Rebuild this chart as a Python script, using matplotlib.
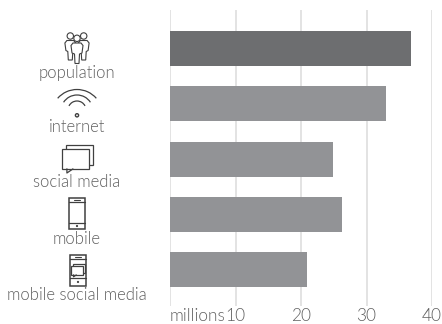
import numpy as np
import matplotlib
matplotlib.use("Agg")
import matplotlib.pyplot as plt
from matplotlib.patches import Circle, Rectangle, Arc

categories = ["population", "internet", "social media", "mobile", "mobile social media"]
values = [36.8, 33.0, 24.9, 26.3, 20.9]
bar_colors = ["#6d6e70", "#929396", "#929396", "#929396", "#929396"]
tick_values = [10, 20, 30, 40]

TEXT = "#606060"
INK = "#404040"
plt.rcParams["font.family"] = ["Lato", "DejaVu Sans"]

W, H = 442, 324
fig = plt.figure(figsize=(W / 100, H / 100), dpi=100)

# Bar panel placed by pixel bounds: 0..40 spans x 170..432, rows span y 10..306
ax = fig.add_axes([170 / W, 1 - 306 / H, 262 / W, 296 / H])
ax.set_xlim(0, 40)
ax.set_ylim(4.66, -0.697)
ax.barh(range(len(values)), values, height=0.633, color=bar_colors, zorder=3)
for v in [0] + tick_values:
    ax.axvline(v, color="#e0e0e0", lw=1.3, zorder=1)
for s in ax.spines.values():
    s.set_visible(False)
ax.set_yticks([])
ax.set_xticks([])
ax.patch.set_alpha(0)
for v in tick_values:
    ax.annotate(str(v), (v, 0), xycoords=("data", "axes fraction"), xytext=(0, -10.9),
                textcoords="offset points", ha="center", va="baseline",
                fontsize=12.5, color=TEXT, fontweight=300, annotation_clip=False)
ax.annotate("millions", (0, 0), xycoords=("data", "axes fraction"), xytext=(0, -10.9),
            textcoords="offset points", ha="left", va="baseline",
            fontsize=12.4, color=TEXT, fontweight=300, annotation_clip=False)

# Overlay in pixel units for the row icons and captions
ov = fig.add_axes([0, 0, 1, 1])
ov.set_xlim(0, W)
ov.set_ylim(H, 0)
ov.axis("off")
ov.patch.set_alpha(0)

label_y = [78, 132.5, 187, 243.5, 299.5]
for name, y in zip(categories, label_y):
    ov.text(77, y, name, ha="center", va="baseline", fontsize=12, color=TEXT, fontweight=300)


def line(xs, ys, lw=1.0):
    ov.plot(xs, ys, color=INK, lw=lw, solid_capstyle="round", solid_joinstyle="round", zorder=5)


def box(x0, y0, x1, y1, lw=1.0, fc="white", z=3):
    ov.add_patch(Rectangle((x0, y0), x1 - x0, y1 - y0, fc=fc, ec=INK, lw=lw, zorder=z))


def person(cx, head_y, top, bottom, half, z=2):
    ov.add_patch(Circle((cx, head_y), 3.2, fc="white", ec=INK, lw=0.8, zorder=z))
    xs = [cx - half + 2, cx - half, cx - half + 1, cx - 2.5, cx - 2, cx + 2, cx + 2.5, cx + half - 1, cx + half, cx + half - 2]
    ys = [top, top + 2.5, top + 10, top + 11, bottom, bottom, top + 11, top + 10, top + 2.5, top]
    ov.fill(xs, ys, fc="white", ec=INK, lw=0.8, zorder=z)


def chat(x0, y0, x1, y1, dx, dy, lw=1.0, z=3):
    box(x0 + dx, y0 - dy, x1 + dx, y1 - dy, lw=lw, z=z)
    box(x0, y0, x1, y1, lw=lw, z=z + 0.1)
    tx = x0 + (x1 - x0) * 0.2
    ov.plot([tx, tx, tx + (x1 - x0) * 0.22], [y1, y1 + (y1 - y0) * 0.2, y1], color=INK, lw=lw, zorder=z + 0.2)


def phone(x0, y0, x1, y1, lower):
    box(x0, y0, x1, y1, lw=1.1, z=3)
    line([x0, x1], [y0 + 4, y0 + 4], 0.9)
    line([x0 + 5, x1 - 5], [y0 + 2, y0 + 2], 0.8)
    line([x0, x1], [y1 - lower, y1 - lower], 0.9)
    ov.add_patch(Circle(((x0 + x1) / 2, y1 - lower / 2), 1.1, fc=INK, ec="none", zorder=6))


person(70.3, 36, 40.5, 60, 5.4, z=2)
person(83.7, 36, 40.5, 60, 5.4, z=2)
person(77, 38.3, 43, 63.5, 6, z=3)

# Wi-Fi symbol: three arcs above a small ring, given as top edge, radius and half-angle
for top, r, ang in [(89.5, 25.6, 49), (95, 16, 57), (101, 9, 63)]:
    ov.add_patch(Arc((77, top + r), 2 * r, 2 * r, theta1=270 - ang, theta2=270 + ang, ec=INK, lw=0.9))
ov.add_patch(Circle((77, 115.3), 1.6, fc="white", ec=INK, lw=1.0))

chat(61.5, 149, 88.5, 169, 4.3, 4.3, lw=0.9)
phone(69, 198, 85, 229, 6)
phone(70, 254.7, 86, 285.7, 7.5)
chat(71.2, 266, 83, 275, 2, 2, lw=0.9, z=4)

fig.savefig("out.png", dpi=100)
